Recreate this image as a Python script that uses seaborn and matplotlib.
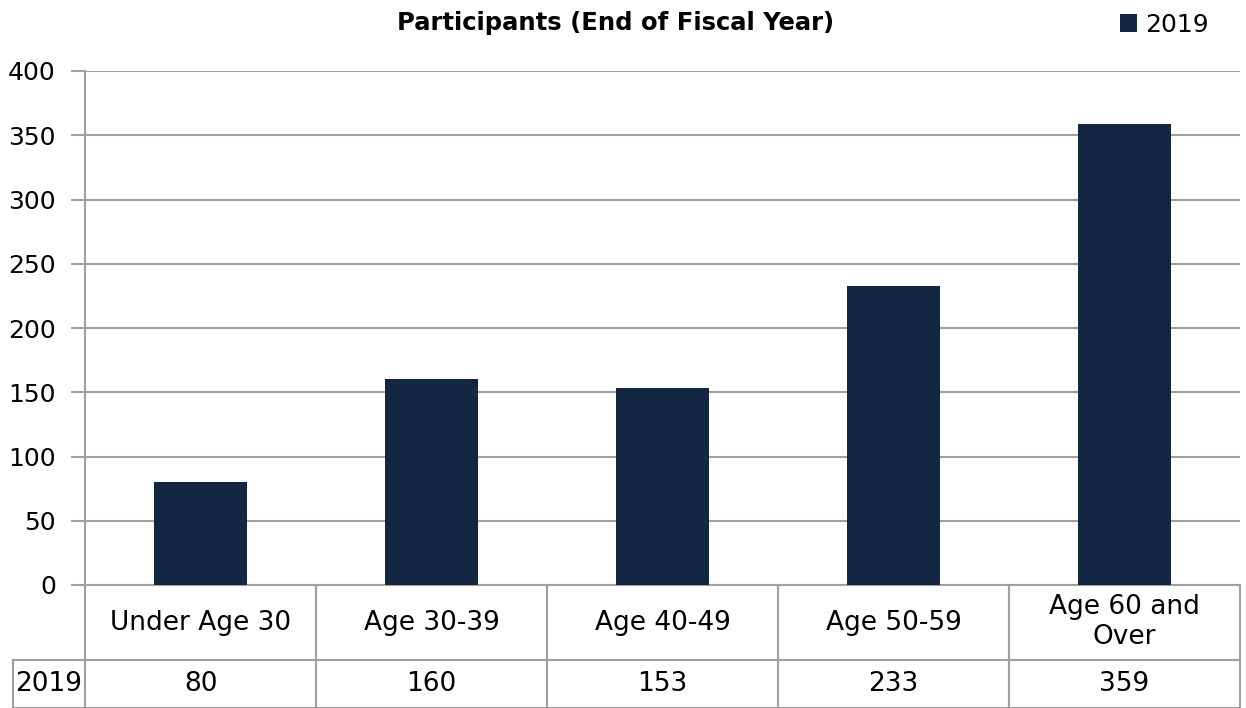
import matplotlib
matplotlib.use('Agg')
import matplotlib.pyplot as plt
import seaborn as sns
import pandas as pd

# Chart data
categories = ['Under Age 30', 'Age 30-39', 'Age 40-49', 'Age 50-59', 'Age 60 and\nOver']
series_name = '2019'
values = [80, 160, 153, 233, 359]
y_ticks = [0, 50, 100, 150, 200, 250, 300, 350, 400]

bar_color = '#132743'
grid_color = '#A0A0A0'

sns.set_style('white')
plt.rcParams['font.family'] = ['DejaVu Sans']
plt.rcParams['text.color'] = 'black'
plt.rcParams['ytick.color'] = 'black'

df = pd.DataFrame({'Category': categories, 'Participants': values, 'Year': series_name})

fig = plt.figure(figsize=(12.46, 7.08), dpi=100)
ax = fig.add_axes([85 / 1246, 1 - 585 / 708, 1155 / 1246, 514 / 708])

sns.barplot(x='Category', y='Participants', hue='Year', data=df, ax=ax,
            palette=[bar_color], width=0.4, saturation=1, linewidth=0, zorder=3)

ax.set_ylim(0, 400)
ax.set_yticks(y_ticks)
ax.set_yticklabels([str(t) for t in y_ticks], fontsize=18)
ax.yaxis.grid(True, color=grid_color, linewidth=1.5, zorder=0)
ax.tick_params(axis='y', left=True, length=10, width=1.5, color=grid_color,
               labelcolor='black', pad=11)
ax.set_xticks([])
ax.set_xlabel('')
ax.set_ylabel('')
for side in ['top', 'right']:
    ax.spines[side].set_visible(False)
for side in ['left', 'bottom']:
    ax.spines[side].set_color(grid_color)
    ax.spines[side].set_linewidth(1.5)

# Data table below the bars
row_w = 81 / 1155
tbl = ax.table(cellText=[[str(v) for v in values]], rowLabels=[series_name],
               colLabels=categories, cellLoc='center', rowLoc='left',
               bbox=[0, -123 / 514, 1, 123 / 514])
tbl.auto_set_font_size(False)
tbl.set_fontsize(19)
for (r, c), cell in tbl.get_celld().items():
    cell.set_edgecolor(grid_color)
    cell.set_linewidth(1.5)
    cell.set_width(row_w if c == -1 else 1 / len(categories))
    cell.set_height(75 if r == 0 else 48)
    cell.get_text().set_color('black')
    if r == 0:
        cell.visible_edges = 'LR'
    if c == -1:
        cell.PAD = 0.04

ax.legend_.remove()
fig.legend(handles=ax.patches[:1], labels=[series_name], loc='upper right',
           bbox_to_anchor=(0.988, 1.014), frameon=False, fontsize=18,
           handlelength=0.7, handleheight=0.7, handletextpad=0.3,
           labelcolor='black')

fig.suptitle('Participants (End of Fiscal Year)', x=0.494, y=0.985,
             fontsize=17.5, fontweight='bold')

fig.savefig('out.png', dpi=100)
